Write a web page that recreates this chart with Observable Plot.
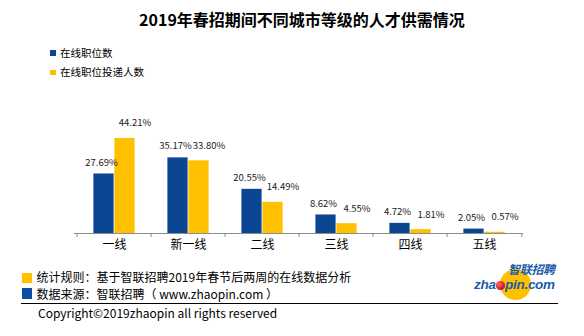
<!DOCTYPE html>
<html>
<head>
<meta charset="utf-8">
<script src="https://cdn.jsdelivr.net/npm/d3@7"></script>
<script src="https://cdn.jsdelivr.net/npm/@observablehq/plot@0.6"></script>
<style>
  html, body { margin: 0; padding: 0; background: #fff; }
  #wrap { position: relative; width: 584px; height: 336px; overflow: hidden; font-family: "Noto Sans CJK SC", "Noto Sans", sans-serif; color: #000; }
  #wrap svg { position: absolute; left: 0; top: 0; }
  .abs { position: absolute; white-space: nowrap; line-height: 1; }
  .sq { position: absolute; }
</style>
</head>
<body>
<div id="wrap"></div>
<script>
// ---- data ----
const title = "2019年春招期间不同城市等级的人才供需情况";
const categories = ["一线", "新一线", "二线", "三线", "四线", "五线"];
const seriesNames = ["在线职位数", "在线职位投递人数"];
const onlineJobs = [27.69, 35.17, 20.55, 8.62, 4.72, 2.05];
const onlineApplicants = [44.21, 33.80, 14.49, 4.55, 1.81, 0.57];
const footnoteRule = "统计规则：基于智联招聘2019年春节后两周的在线数据分析";
const footnoteSource = "数据来源：智联招聘（ www.zhaopin.com ）";
const copyright = "Copyright©2019zhaopin all rights reserved";

const BLUE = "#0b4693";
const YELLOW = "#ffc000";

const jobsData = categories.map((c, i) => ({cat: c, v: onlineJobs[i]}));
const appData = categories.map((c, i) => ({cat: c, v: onlineApplicants[i]}));
const fmt = d => d.v.toFixed(2) + "%";

const chart = Plot.plot({
  width: 584,
  height: 336,
  marginLeft: 74,
  marginRight: 61,
  marginTop: 125.5,
  marginBottom: 103,
  style: {fontFamily: "'Noto Sans CJK SC', 'Noto Sans', sans-serif", background: "transparent", overflow: "visible"},
  x: {domain: categories, padding: 0, axis: null, label: null},
  y: {domain: [0, 50], axis: null, label: null},
  marks: [
    Plot.barY(jobsData, {x: "cat", y: "v", fill: BLUE, insetLeft: 16.4, insetRight: 37.4}),
    Plot.barY(appData, {x: "cat", y: "v", fill: YELLOW, insetLeft: 37.4, insetRight: 16.4}),
    Plot.ruleY([0], {stroke: "#8c8c8c", strokeWidth: 1}),
    Plot.ruleX(categories, {x: d => d, dx: -37.4, y1: 0, y2: 0, insetBottom: -4, stroke: "#8c8c8c"}),
    Plot.ruleX(categories.slice(-1), {x: d => d, dx: 37.4, y1: 0, y2: 0, insetBottom: -4, stroke: "#8c8c8c"}),
    Plot.axisX({tickSize: 0, tickPadding: 7, fontSize: 12, fill: "#000", label: null}),
    Plot.text(jobsData, {x: "cat", y: "v", text: fmt, dx: -13, dy: -11.5, fontSize: 9.5, fill: "#1a1a1a"}),
    Plot.text(appData, {x: "cat", y: "v", text: fmt, dx: 20.5, dy: -15, fontSize: 9.5, fill: "#1a1a1a"})
  ]
});

const wrap = document.getElementById("wrap");
wrap.appendChild(chart);

function addText(txt, left, centerY, size, extra) {
  const d = document.createElement("div");
  d.className = "abs";
  d.textContent = txt;
  d.style.left = left + "px";
  d.style.top = (centerY - size / 2) + "px";
  d.style.fontSize = size + "px";
  d.style.height = size + "px";
  if (extra) Object.assign(d.style, extra);
  wrap.appendChild(d);
  return d;
}
function addBox(left, top, w, h, color, extra) {
  const d = document.createElement("div");
  d.className = "sq";
  Object.assign(d.style, {left: left + "px", top: top + "px", width: w + "px", height: h + "px", background: color});
  if (extra) Object.assign(d.style, extra);
  wrap.appendChild(d);
  return d;
}

// title
addText(title, 10, 19, 16, {fontWeight: "bold", width: "584px", textAlign: "center", left: "10px"});

// legend
addBox(50, 50, 5.5, 5.5, BLUE);
addText(seriesNames[0], 60, 53, 10.5);
addBox(50, 69.5, 5.5, 5.5, YELLOW);
addText(seriesNames[1], 60, 72.5, 10.5);

// footnotes
addBox(22, 273, 10, 10, YELLOW);
addText(footnoteRule, 36.5, 277, 12);
addBox(22, 288, 10, 10.5, "#0a4fa3");
addText(footnoteSource, 36.5, 293.5, 12);
addBox(21, 302.5, 537, 1, "#000");
addText(copyright, 38, 313, 12);

// logo
addBox(500, 269, 31, 31, YELLOW, {borderRadius: "50%"});
addText("智联招聘", 508, 269, 12, {fontWeight: "bold", fontStyle: "italic", color: "#1d5aa8", letterSpacing: "-0.3px"});
const logo = addText("", 474, 284.5, 13.5, {fontFamily: "'Liberation Sans', Arial, sans-serif", fontWeight: "bold", fontStyle: "italic", color: "#1d5aa8", letterSpacing: "-0.3px"});
logo.innerHTML = 'zha<span style="display:inline-block;width:8.5px;height:8.5px;border-radius:50%;background:radial-gradient(circle at 35% 35%, #ff6a5a, #c8141e 70%);vertical-align:-1px;margin:0 0.5px"></span>pin.com';
</script>
</body>
</html>
